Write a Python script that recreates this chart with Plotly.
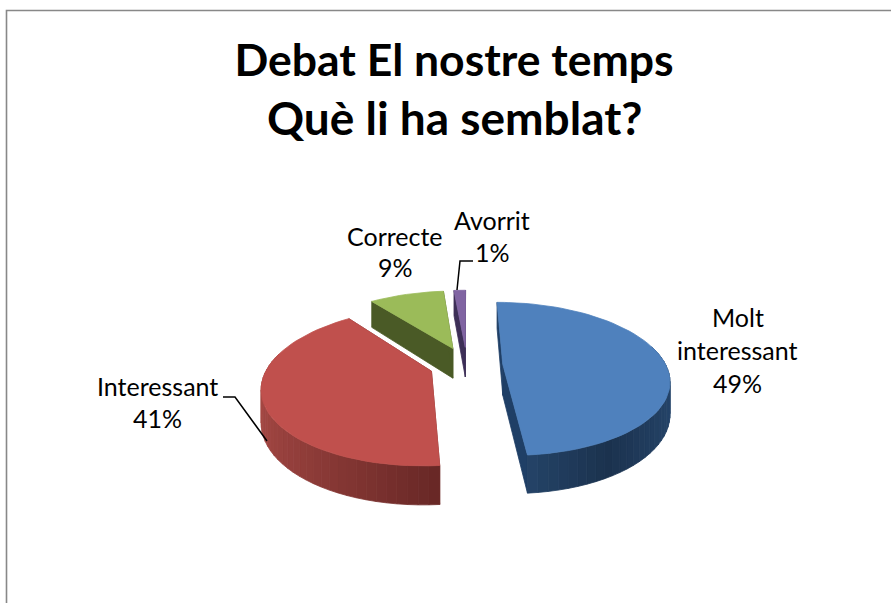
import math
import plotly.graph_objects as go

categories = ["Molt interessant", "Interessant", "Correcte", "Avorrit"]
values = [48.7, 40.9, 9.0, 1.4]
percent_labels = ["49%", "41%", "9%", "1%"]
title_lines = ["Debat El nostre temps", "Què li ha semblat?"]

top_colors = ["#4F81BD", "#C0504D", "#9BBB59", "#8064A2"]
cut_colors = ["#1F3F66", "#7A2F2D", "#4A5A26", "#3D2F57"]
rim_light = [(38, 70, 108), (165, 72, 68), (90, 110, 50), (70, 55, 95)]
rim_dark = [(27, 50, 78), (105, 40, 38), (60, 75, 30), (50, 40, 70)]
explode = [0.22, 0.23, 0.25, 0.25]

# Perspective disc model (pixel-space axes)
CX, CY, RX, RY, K, DEPTH = 467, 365, 163, 74, 0.19, 31


def project(u, v, down=0.0):
    w = 1 + K * v
    return CX + RX * u / w, CY - RY * v / w + down / w


fig = go.Figure()


def poly(pts, color):
    xs = [p[0] for p in pts] + [pts[0][0]]
    ys = [p[1] for p in pts] + [pts[0][1]]
    fig.add_trace(go.Scatter(
        x=xs, y=ys, mode="lines", fill="toself", fillcolor=color,
        line=dict(color=color, width=0.8),
        hoverinfo="skip", showlegend=False))


total = sum(values)
starts = []
a = 0.0
for val in values:
    starts.append(a)
    a += val / total * 2 * math.pi

order = [3, 2, 0, 1]
for i in order:
    a0 = starts[i]
    a1 = a0 + values[i] / total * 2 * math.pi
    mid = (a0 + a1) / 2
    ex, ey = explode[i] * math.sin(mid), explode[i] * math.cos(mid)
    n = max(4, int((a1 - a0) / math.radians(3)))
    angs = [a0 + (a1 - a0) * j / n for j in range(n + 1)]
    arc = [(ex + math.sin(t), ey + math.cos(t)) for t in angs]
    apex = (ex, ey)

    # cut faces
    for p, q in ((arc[0], apex), (apex, arc[-1])):
        poly([project(*p), project(*q), project(*q, DEPTH), project(*p, DEPTH)],
             cut_colors[i])

    # outer rim, shaded across its width
    for j in range(n):
        p, q = arc[j], arc[j + 1]
        tm = (angs[j] + angs[j + 1]) / 2
        if math.cos(tm) > 0.25:
            continue
        if i == 1:
            f = min(1.0, ((math.sin(tm) + 1) / 2) / 0.53)
        else:
            f = math.sin(tm) if math.sin(tm) > 0 else 0.0
            f = 1 - abs(2 * f - 1)
        c = tuple(round(l + (d - l) * f) for l, d in zip(rim_light[i], rim_dark[i]))
        poly([project(*p), project(*q), project(*q, DEPTH), project(*p, DEPTH)],
             f"rgb{c}")

    # top surface
    poly([project(*apex)] + [project(*p) for p in arc], top_colors[i])

# Leader lines
leaders = [([223, 235, 267], [397, 397, 441]), ([473, 460, 457], [261, 261, 290])]
for lx, ly in leaders:
    fig.add_trace(go.Scatter(x=lx, y=ly, mode="lines",
                             line=dict(color="#000000", width=1.5),
                             hoverinfo="skip", showlegend=False))

FONT = "Lato, Carlito, Calibri, sans-serif"
labels = [
    ("Molt", 737.5, 317), ("interessant", 737.5, 350), (percent_labels[0], 737.5, 383),
    (categories[1], 157, 386), (percent_labels[1], 157, 418),
    (categories[2], 395, 236), (percent_labels[2], 395, 267),
    (categories[3], 492, 220), (percent_labels[3], 492, 252),
]
annotations = [dict(x=x, y=y, text=t, showarrow=False, xanchor="center", yanchor="middle",
                    font=dict(family=FONT, size=25, color="#000000"))
               for t, x, y in labels]
annotations.append(dict(x=454, y=117, text=title_lines[1], showarrow=False,
                        xanchor="center", yanchor="middle",
                        font=dict(family=FONT, size=46, color="#000000", weight="bold")))

W, H = 891, 603
fig.update_layout(
    width=W, height=H, margin=dict(l=0, r=0, t=0, b=0),
    paper_bgcolor="white", plot_bgcolor="white", showlegend=False,
    title=dict(text=title_lines[0], x=454 / W, xanchor="center",
               y=1 - 60 / H, yanchor="middle",
               font=dict(family=FONT, size=44.5, color="#000000", weight="bold")),
    xaxis=dict(range=[0, W], visible=False, fixedrange=True),
    yaxis=dict(range=[H, 0], visible=False, fixedrange=True),
    annotations=annotations,
    shapes=[dict(type="rect", x0=6.5, y0=10.5, x1=1000, y1=700,
                 line=dict(color="#888888", width=1.6), layer="below")],
)
fig.write_html("out.html", config={"displayModeBar": False},
               post_script="document.body.style.margin='0';document.body.style.overflow='hidden';")
